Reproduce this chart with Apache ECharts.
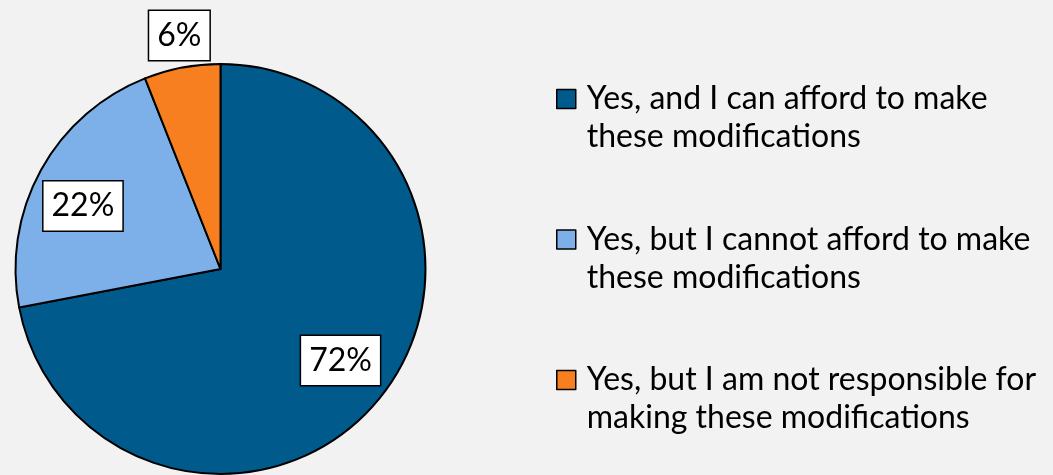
<!DOCTYPE html>
<html>
<head>
<meta charset="utf-8">
<style>
  html, body { margin: 0; padding: 0; background: #f2f2f2; }
  #chart { width: 1053px; height: 475px; }
</style>
<script src="https://cdn.jsdelivr.net/npm/echarts@6/dist/echarts.min.js"></script>
</head>
<body>
<div id="chart"></div>
<script>
// Survey answers and their shares (percent)
const categories = [
  'Yes, and I can afford to make these modifications',
  'Yes, but I cannot afford to make these modifications',
  'Yes, but I am not responsible for making these modifications'
];
const legendLines = [
  ['Yes, and I can afford to make', 'these modifications'],
  ['Yes, but I cannot afford to make', 'these modifications'],
  ['Yes, but I am not responsible for', 'making these modifications']
];
const shares = [72, 22, 6];
const colors = ['#005a8c', '#7db0e8', '#f77f1f'];

const FONT = 'Lato';
const CENTER = [220.5, 269];
const RADIUS = 205;
// where each value box sits: distance from the centre (fraction of the radius)
// and a small turn (degrees) away from the slice's middle direction
const labelReach = [0.736, 0.738, 1.157];
const labelTurn = [-2.3, -4.2, 0.8];

const total = shares.reduce((a, b) => a + b, 0);
function midAngle(i) {
  let before = 0;
  for (let k = 0; k < i; k++) before += shares[k];
  return ((before + shares[i] / 2) / total) * Math.PI * 2;
}

const chart = echarts.init(document.getElementById('chart'), null, { renderer: 'canvas' });

chart.setOption({
  backgroundColor: '#f2f2f2',
  animation: false,
  legend: {
    orient: 'vertical',
    left: 551,
    top: 37,
    itemGap: 26.5,
    itemWidth: 19,
    itemHeight: 19,
    icon: 'rect',
    selectedMode: false,
    itemStyle: { borderColor: '#000', borderWidth: 1.5 },
    // a blank leading line keeps the marker level with the first text line
    formatter: name => ' \n' + legendLines[categories.indexOf(name)].join('\n'),
    textStyle: {
      fontFamily: FONT,
      fontSize: 32,
      color: '#000',
      lineHeight: 38,
      padding: [0, 0, 0, 6]
    },
    data: categories
  },
  series: [{
    type: 'pie',
    center: CENTER,
    radius: RADIUS,
    startAngle: 90,
    clockwise: true,
    silent: true,
    itemStyle: { borderColor: '#000', borderWidth: 2 },
    labelLine: { show: false },
    label: {
      show: true,
      position: 'inside',
      formatter: p => p.value + '%',
      fontFamily: FONT,
      fontSize: 32,
      lineHeight: 35,
      color: '#000',
      backgroundColor: '#fff',
      borderColor: '#000',
      borderWidth: 1.5,
      padding: [7, 8, 7, 8]
    },
    labelLayout: params => {
      const i = params.dataIndex;
      const a = midAngle(i) + labelTurn[i] * Math.PI / 180;
      const d = RADIUS * labelReach[i];
      return {
        x: CENTER[0] + Math.sin(a) * d,
        y: CENTER[1] - Math.cos(a) * d,
        align: 'center',
        verticalAlign: 'middle'
      };
    },
    data: categories.map((c, i) => ({
      name: c,
      value: shares[i],
      itemStyle: { color: colors[i] }
    }))
  }]
});
</script>
</body>
</html>
